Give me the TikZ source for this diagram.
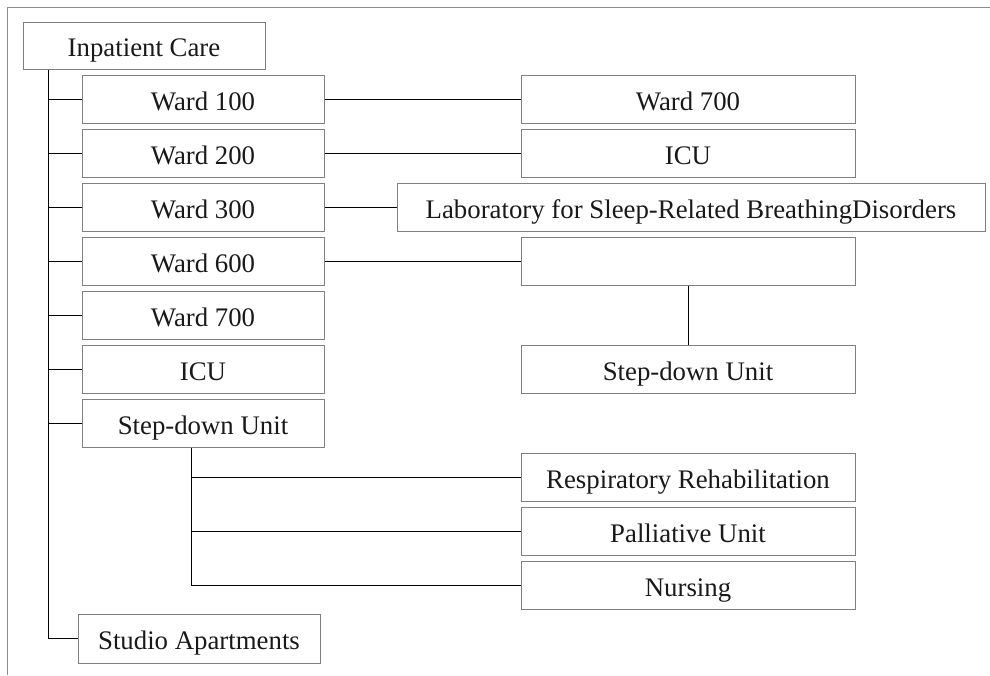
\documentclass[tikz,border=0pt]{standalone}
\usepackage{fontspec}
\setmainfont{Liberation Serif}
\begin{document}
\begin{tikzpicture}[x=1pt,y=-1pt,
  unitbox/.style={draw=black!50, line width=1pt, rectangle, inner sep=0pt,
    minimum height=48pt, text=black!90, text height=22pt, text depth=0pt,
    font=\fontsize{26.8}{32}\selectfont},
  leftbox/.style={unitbox, minimum width=242pt},
  rightbox/.style={unitbox, minimum width=334pt},
  link/.style={draw=black, line width=1pt},
  frameline/.style={draw=black!45, line width=1pt}]
\useasboundingbox (0,0) rectangle (990,675);

% partial frame: left and top edges
\draw[frameline] (7,675) -- (7,7) -- (990,7);

% root
\node[leftbox, minimum height=47pt] (ic) at (144,45.5) {Inpatient Care};

% first level
\node[leftbox] (w100) at (203,99)  {Ward 100};
\node[leftbox] (w200) at (203,153) {Ward 200};
\node[leftbox] (w300) at (203,207) {Ward 300};
\node[leftbox] (w600) at (203,261) {Ward 600};
\node[leftbox] (w700) at (203,315) {Ward 700};
\node[leftbox] (icu)  at (203,369) {ICU};
\node[leftbox] (sdu)  at (203,423) {Step-down Unit};
\node[leftbox, minimum height=49pt] (studio) at (199,638.5) {Studio Apartments};

% second level
\node[rightbox] (rw700) at (688,99)  {Ward 700};
\node[rightbox] (ricu)  at (688,153) {ICU};
\node[unitbox, minimum width=588pt] (lab) at (691,207) {Laboratory for Sleep-Related BreathingDisorders};
\node[rightbox] (blank) at (688,261) {};
\node[rightbox] (rsdu)  at (688,369) {Step-down Unit};
\node[rightbox] (resp)  at (688,477.5) {Respiratory Rehabilitation};
\node[rightbox] (pall)  at (688,531.5) {Palliative Unit};
\node[rightbox] (nurs)  at (688,585) {Nursing};

% trunk and its branches
\coordinate (trunk) at (48,0);
\draw[link] (ic.south -| trunk) -- (studio.west -| trunk) -- (studio.west);
\foreach \n in {w100,w200,w300,w600,w700,icu,sdu}
  \draw[link] (\n.west -| trunk) -- (\n.west);

% ward links to the right column
\draw[link] (w100.east) -- (rw700.west);
\draw[link] (w200.east) -- (ricu.west);
\draw[link] (w300.east) -- (lab.west);
\draw[link] (w600.east) -- (blank.west);
\draw[link] (blank.south) -- (rsdu.north);

% step-down unit branches
\coordinate (sdx) at (191,0);
\draw[link] (sdu.south -| sdx) -- (nurs.west -| sdx) -- (nurs.west);
\draw[link] (resp.west -| sdx) -- (resp.west);
\draw[link] (pall.west -| sdx) -- (pall.west);
\end{tikzpicture}
\end{document}
